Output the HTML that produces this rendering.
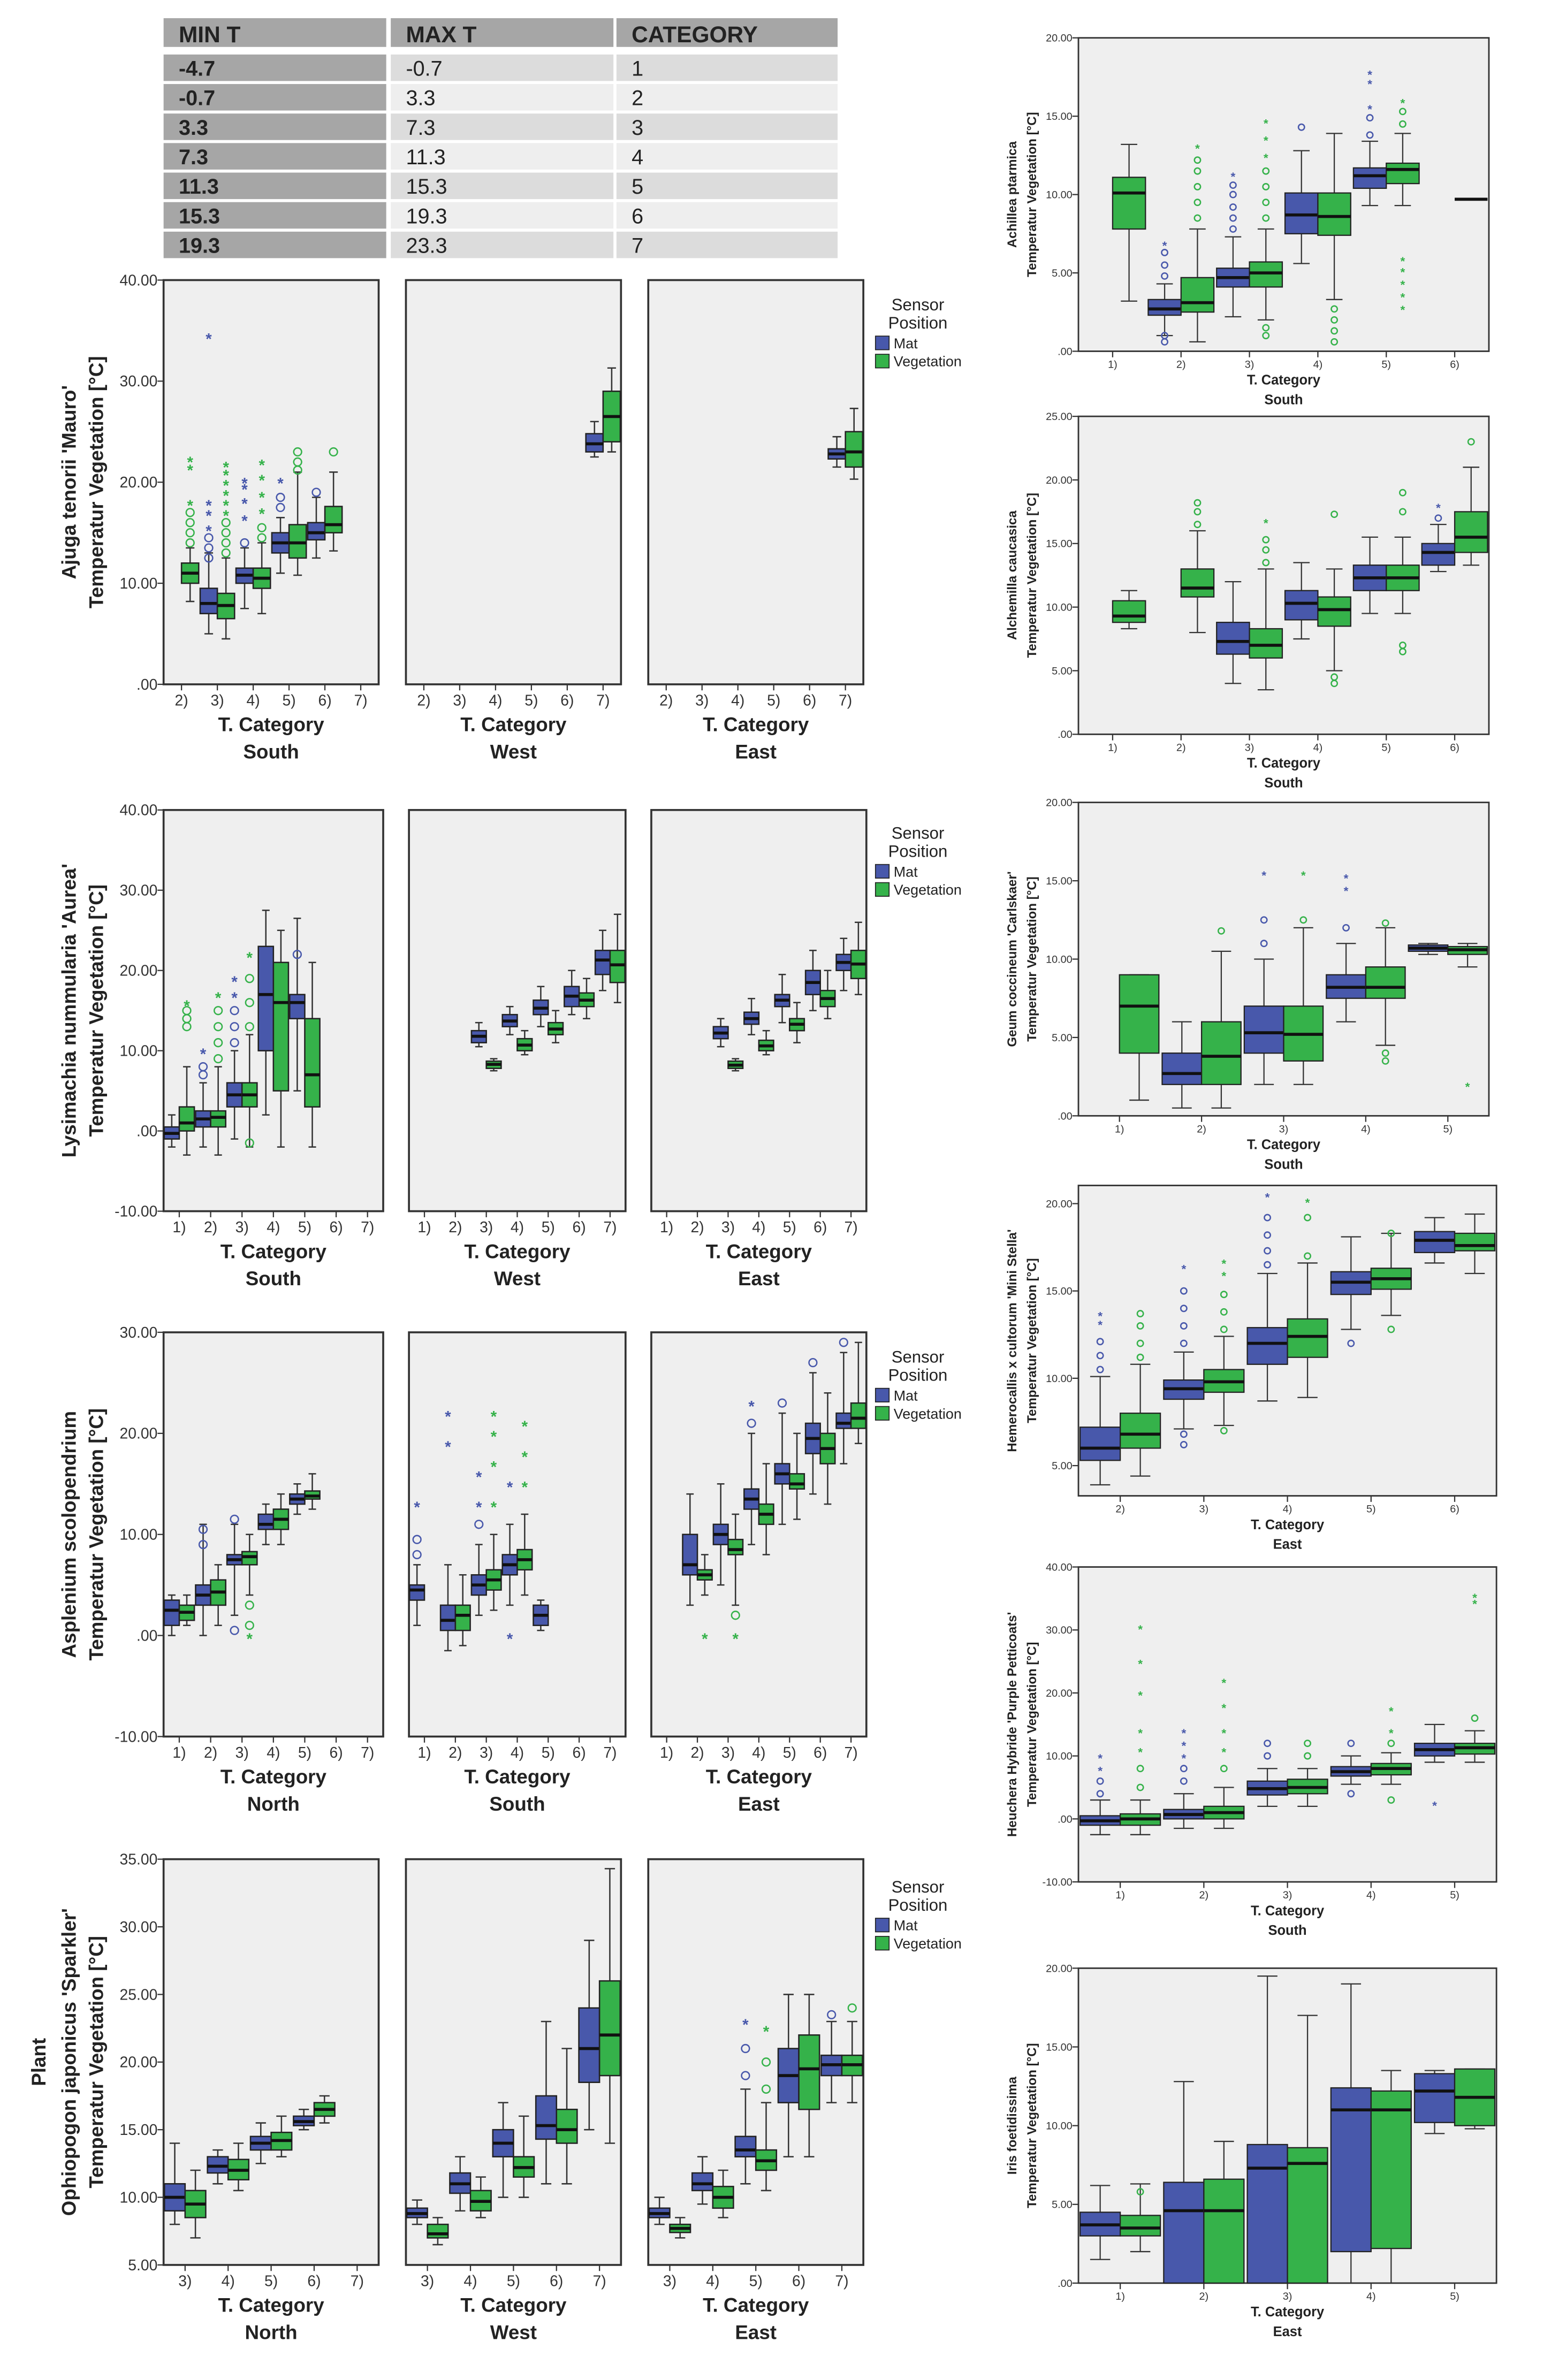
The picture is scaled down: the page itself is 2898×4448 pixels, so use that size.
<!DOCTYPE html>
<html><head><meta charset="utf-8"><title>Temperature box plots by T. Category</title>
<style>
html,body{margin:0;padding:0;background:#fff;}
svg{display:block;}
text{font-family:"Liberation Sans",Arial,sans-serif;}
</style></head>
<body>
<svg id="fig" xmlns="http://www.w3.org/2000/svg" width="2898" height="4448" viewBox="0 0 1024 1572" preserveAspectRatio="none"></svg>
<script>
// ---------- DATA (box = [whiskerLow, q1, median, q3, whiskerHigh]) ----------
const tableMin = ["-4.7","-0.7","3.3","7.3","11.3","15.3","19.3"];
const tableMax = ["-0.7","3.3","7.3","11.3","15.3","19.3","23.3"];
const tableCat = ["1","2","3","4","5","6","7"];

const cats2to7 = ["2)","3)","4)","5)","6)","7)"];
const cats1to7 = ["1)","2)","3)","4)","5)","6)","7)"];
const cats3to7 = ["3)","4)","5)","6)","7)"];
const cats1to6 = ["1)","2)","3)","4)","5)","6)"];
const cats1to5 = ["1)","2)","3)","4)","5)"];
const cats2to6 = ["2)","3)","4)","5)","6)"];

// Ajuga
const ajugaSouthMat = [null,[5,7,8,9.5,13],[7.5,10,10.8,11.5,13.5],[11,13,14,15,16.5],[12.5,14.3,15,16,18.5],null];
const ajugaSouthVeg = [[8.2,10,11,12,13.5],[4.5,6.5,7.8,9,12.5],[7,9.5,10.5,11.5,14],[10.8,12.5,14,15.8,21],[13.2,15,15.8,17.6,21],null];
const ajugaSouthOut = [[0,'v',14,'o'],[0,'v',15,'o'],[0,'v',16,'o'],[0,'v',17,'o'],[0,'v',18,'*'],[0,'v',21.5,'*'],[0,'v',22.3,'*'],[1,'m',12.5,'o'],[1,'m',13.5,'o'],[1,'m',14.5,'o'],[1,'m',15.5,'*'],[1,'m',17,'*'],[1,'m',18,'*'],[1,'m',34.5,'*'],[1,'v',13,'o'],[1,'v',14,'o'],[1,'v',15,'o'],[1,'v',16,'o'],[1,'v',17,'*'],[1,'v',18,'*'],[1,'v',19,'*'],[1,'v',20,'*'],[1,'v',21,'*'],[1,'v',21.8,'*'],[2,'m',14,'o'],[2,'m',16.5,'*'],[2,'m',18.2,'*'],[2,'m',19.6,'*'],[2,'m',20.2,'*'],[2,'v',14.5,'o'],[2,'v',15.5,'o'],[2,'v',17.2,'*'],[2,'v',18.8,'*'],[2,'v',20.5,'*'],[2,'v',22,'*'],[3,'m',17.5,'o'],[3,'m',18.5,'o'],[3,'m',20.2,'*'],[3,'v',21.2,'o'],[3,'v',22,'o'],[3,'v',23,'o'],[4,'m',19,'o'],[4,'v',23,'o']];
const ajugaWestMat = [null,null,null,null,null,[22.5,23,23.8,24.8,26]];
const ajugaWestVeg = [null,null,null,null,null,[23,24,26.5,29,31.3]];
const ajugaEastMat = [null,null,null,null,null,[21.5,22.3,22.8,23.3,24.5]];
const ajugaEastVeg = [null,null,null,null,null,[20.3,21.5,23,25,27.3]];

// Lysimachia
const lysiSouthMat = [[-2,-1,-0.3,0.5,2],[-2,0.5,1.5,2.5,6],[-1,3,4.5,6,10],[2,10,17,23,27.5],[5,14,16,17,26.5],null,null];
const lysiSouthVeg = [[-3,0,1,3,8],[-3,0.5,1.7,2.5,8],[-2,3,4.5,6,12],[-2,5,16,21,25],[-2,3,7,14,21],null,null];
const lysiSouthOut = [[0,'v',13,'o'],[0,'v',14,'o'],[0,'v',15,'o'],[0,'v',16,'*'],[1,'m',7,'o'],[1,'m',8,'o'],[1,'m',10,'*'],[1,'v',9,'o'],[1,'v',11,'o'],[1,'v',13,'o'],[1,'v',15,'o'],[1,'v',17,'*'],[2,'m',11,'o'],[2,'m',13,'o'],[2,'m',15,'o'],[2,'m',17,'*'],[2,'m',19,'*'],[2,'v',13,'o'],[2,'v',16,'o'],[2,'v',19,'o'],[2,'v',22,'*'],[2,'v',-1.5,'o'],[4,'m',22,'o']];
const lysiWestMat = [null,null,[10.5,11,11.8,12.5,13.5],[12,13,13.7,14.5,15.5],[13,14.5,15.3,16.3,18],[14.5,15.5,16.8,18,20],[17.5,19.5,21.3,22.5,25]];
const lysiWestVeg = [null,null,[7.5,7.8,8.3,8.7,9],[9.5,10,10.7,11.5,12.5],[11,12,12.7,13.5,15],[14,15.5,16.3,17.2,19],[16,18.5,20.7,22.5,27]];
const lysiEastMat = [null,null,[10.5,11.5,12.2,13,14],[12,13.3,14,14.8,16.5],[13.5,15.5,16.3,17,19.5],[15,17,18.5,20,22.5],[17.5,20,21,22,24]];
const lysiEastVeg = [null,null,[7.5,7.8,8.2,8.7,9],[9.5,10,10.6,11.3,12.5],[11,12.5,13.3,14,16],[14,15.5,16.5,17.5,20],[17,19,20.8,22.5,26]];

// Asplenium
const asplNorthMat = [[0,1,2.5,3.5,4],[0,3,4,5,11],[2,7,7.5,8,11],[9,10.5,11,12,13],[12,13,13.5,14,15],null,null];
const asplNorthVeg = [[1,1.5,2.3,3,4],[1,3,4.3,5.5,7],[4,7,7.8,8.3,10],[9,10.5,11.5,12.5,14],[12.5,13.5,13.8,14.3,16],null,null];
const asplNorthOut = [[1,'m',9,'o'],[1,'m',10.5,'o'],[2,'m',0.5,'o'],[2,'m',11.5,'o'],[2,'v',0,'*'],[2,'v',1,'o'],[2,'v',3,'o']];
const asplSouthMat = [[1,3.5,4.5,5,7],[-1.5,0.5,1.5,3,7],[2,4,5,6,9],[3,6,7,8,11],[0.5,1,2,3,3.5],null,null];
const asplSouthVeg = [null,[-1,0.5,2,3,6],[2.5,4.5,5.5,6.5,10],[4,6.5,7.5,8.5,12],null,null,null];
const asplSouthOut = [[0,'m',8,'o'],[0,'m',9.5,'o'],[0,'m',13,'*'],[1,'m',19,'*'],[1,'m',22,'*'],[2,'m',11,'o'],[2,'m',13,'*'],[2,'m',16,'*'],[2,'v',13,'*'],[2,'v',17,'*'],[2,'v',20,'*'],[2,'v',22,'*'],[3,'m',15,'*'],[3,'m',0,'*'],[3,'v',15,'*'],[3,'v',18,'*'],[3,'v',21,'*']];
const asplEastMat = [null,[3,6,7,10,14],[5,9,10,11,15],[9,12.5,13.5,14.5,20],[11,15,16,17,22],[14,18,19.5,21,26],[17,20.5,21,22,28]];
const asplEastVeg = [null,[4,5.5,6,6.5,8],[3,8,8.5,9.5,12],[8,11,12,13,17],[11.5,14.5,15,16,20],[13,17,18.5,20,24],[19,20.5,21.5,23,29]];
const asplEastOut = [[1,'v',0,'*'],[2,'v',0,'*'],[2,'v',2,'o'],[3,'m',21,'o'],[3,'m',23,'*'],[4,'m',23,'o'],[5,'m',27,'o'],[6,'m',29,'o']];

// Ophiopogon
const ophiNorthMat = [[8,9,10,11,14],[11,11.8,12.3,13,13.5],[12.5,13.5,14,14.5,15.5],[15,15.3,15.6,16,16.5],null];
const ophiNorthVeg = [[7,8.5,9.5,10.5,12],[10.5,11.3,12,12.8,14],[13,13.5,14.2,14.8,16],[15.5,16,16.5,17,17.5],null];
const ophiWestMat = [[8,8.5,8.8,9.2,9.8],[9,10.3,11,11.8,13],[10,13,14,15,17],[11,14.3,15.3,17.5,23],[15,18.5,21,24,29]];
const ophiWestVeg = [[6.5,7,7.3,8,8.5],[8.5,9,9.7,10.5,11.5],[10,11.5,12.2,13,16],[11,14,15,16.5,21],[14,19,22,26,34.3]];
const ophiEastMat = [[8,8.5,8.8,9.2,10],[9.5,10.5,11,11.8,13],[11,13,13.5,14.5,18],[13,17,19,21,25],[17,19,19.8,20.5,23]];
const ophiEastVeg = [[7,7.4,7.7,8,8.5],[8.5,9.2,10,10.8,12],[10.5,12,12.7,13.5,17],[13,16.5,19.5,22,25],[17,19,19.8,20.5,23]];
const ophiEastOut = [[2,'m',19,'o'],[2,'m',21,'o'],[2,'m',23,'*'],[2,'v',18,'o'],[2,'v',20,'o'],[2,'v',22.5,'*'],[4,'m',23.5,'o'],[4,'v',24,'o']];

// Right column
const achiMat = [null,[1,2.3,2.7,3.3,4.3],[2.2,4.1,4.7,5.3,7.3],[5.6,7.5,8.7,10.1,12.8],[9.3,10.4,11.2,11.7,13.4],null];
const achiVeg = [[3.2,7.8,10.1,11.1,13.2],[0.6,2.5,3.1,4.7,7.8],[2,4.1,5,5.7,7.8],[3.3,7.4,8.6,10.1,13.9],[9.3,10.7,11.6,12,13.9],[9.7,9.7,9.7,9.7,9.7]];
const achiOut = [[1,'m',0.6,'o'],[1,'m',1,'o'],[1,'m',4.8,'o'],[1,'m',5.5,'o'],[1,'m',6.3,'o'],[1,'m',6.9,'*'],[1,'v',8.5,'o'],[1,'v',9.5,'o'],[1,'v',10.5,'o'],[1,'v',11.5,'o'],[1,'v',12.2,'o'],[1,'v',13.1,'*'],[2,'m',7.8,'o'],[2,'m',8.5,'o'],[2,'m',9.2,'o'],[2,'m',10,'o'],[2,'m',10.6,'o'],[2,'m',11.3,'*'],[2,'v',1,'o'],[2,'v',1.5,'o'],[2,'v',8.5,'o'],[2,'v',9.5,'o'],[2,'v',10.5,'o'],[2,'v',11.5,'o'],[2,'v',12.5,'*'],[2,'v',13.6,'*'],[2,'v',14.7,'*'],[3,'m',14.3,'o'],[3,'v',0.6,'o'],[3,'v',1.3,'o'],[3,'v',2,'o'],[3,'v',2.7,'o'],[4,'m',13.8,'o'],[4,'m',14.9,'o'],[4,'m',15.6,'*'],[4,'m',17.2,'*'],[4,'m',17.8,'*'],[4,'v',14.5,'o'],[4,'v',15.3,'o'],[4,'v',16,'*'],[4,'v',2.8,'*'],[4,'v',3.6,'*'],[4,'v',4.4,'*'],[4,'v',5.2,'*'],[4,'v',5.9,'*']];
const alchMat = [null,null,[4,6.3,7.3,8.8,12],[7.5,9,10.3,11.3,13.5],[9.5,11.3,12.3,13.3,15.5],[12.8,13.3,14.3,15,16.5]];
const alchVeg = [[8.3,8.8,9.3,10.5,11.3],[8,10.8,11.5,13,16],[3.5,6,7,8.3,13],[5,8.5,9.8,10.8,13],[9.5,11.3,12.3,13.3,15.5],[13.3,14.3,15.5,17.5,21]];
const alchOut = [[1,'v',16.5,'o'],[1,'v',17.5,'o'],[1,'v',18.2,'o'],[2,'v',13.5,'o'],[2,'v',14.5,'o'],[2,'v',15.3,'o'],[2,'v',16.8,'*'],[3,'v',4.5,'o'],[3,'v',4,'o'],[3,'v',17.3,'o'],[4,'v',6.5,'o'],[4,'v',7,'o'],[4,'v',17.5,'o'],[4,'v',19,'o'],[5,'m',17,'o'],[5,'m',18,'*'],[5,'v',23,'o']];
const geumMat = [null,[0.5,2,2.7,4,6],[2,4,5.3,7,10],[6,7.5,8.2,9,11],[10.3,10.5,10.7,10.9,11]];
const geumVeg = [[1,4,7,9,9],[0.5,2,3.8,6,10.5],[2,3.5,5.2,7,12],[4.5,7.5,8.2,9.5,12],[9.5,10.3,10.6,10.8,11]];
const geumOut = [[1,'v',11.8,'o'],[2,'m',11,'o'],[2,'m',12.5,'o'],[2,'m',15.5,'*'],[2,'v',12.5,'o'],[2,'v',15.5,'*'],[3,'m',12,'o'],[3,'m',14.5,'*'],[3,'m',15.3,'*'],[3,'v',3.5,'o'],[3,'v',4,'o'],[3,'v',12.3,'o'],[4,'v',2,'*']];
const hemeMat = [[3.9,5.3,6,7.2,10.1],[7.1,8.8,9.4,9.9,11.5],[8.7,10.8,12,12.9,16],[12.8,14.8,15.5,16.1,18.1],[16.6,17.2,17.9,18.4,19.2]];
const hemeVeg = [[4.4,6,6.8,8,10.8],[7.3,9.2,9.8,10.5,12.4],[8.9,11.2,12.4,13.4,16.6],[13.6,15.1,15.7,16.3,18.3],[16,17.3,17.6,18.3,19.4]];
const hemeOut = [[0,'m',10.5,'o'],[0,'m',11.3,'o'],[0,'m',12.1,'o'],[0,'m',13.2,'*'],[0,'m',13.7,'*'],[0,'v',11.2,'o'],[0,'v',12,'o'],[0,'v',13,'o'],[0,'v',13.7,'o'],[1,'m',6.2,'o'],[1,'m',6.8,'o'],[1,'m',12,'o'],[1,'m',13,'o'],[1,'m',14,'o'],[1,'m',15,'o'],[1,'m',16.4,'*'],[1,'v',7,'o'],[1,'v',12.8,'o'],[1,'v',13.8,'o'],[1,'v',14.8,'o'],[1,'v',16,'*'],[1,'v',16.7,'*'],[2,'m',16.5,'o'],[2,'m',17.3,'o'],[2,'m',18.2,'o'],[2,'m',19.2,'o'],[2,'m',20.5,'*'],[2,'v',17,'o'],[2,'v',19.2,'o'],[2,'v',20.2,'*'],[3,'m',12,'o'],[3,'v',12.8,'o'],[3,'v',18.3,'o']];
const heucMat = [[-2.5,-1,-0.3,0.5,3],[-1.5,0,0.7,1.5,4],[2,3.8,4.8,6,8],[5.5,6.8,7.5,8.3,10],[9,10,11,12,15]];
const heucVeg = [[-2.5,-1,0,0.8,3],[-1.5,0,1,2,5],[2,4,5,6.3,8],[5.5,7,8,8.8,10.5],[9,10.3,11.3,12,14]];
const heucOut = [[0,'m',4,'o'],[0,'m',6,'o'],[0,'m',8,'*'],[0,'m',10,'*'],[0,'v',5,'o'],[0,'v',8,'o'],[0,'v',11,'*'],[0,'v',14,'*'],[0,'v',20,'*'],[0,'v',25,'*'],[0,'v',30.5,'*'],[1,'m',6,'o'],[1,'m',8,'o'],[1,'m',10,'*'],[1,'m',12,'*'],[1,'m',14,'*'],[1,'v',8,'o'],[1,'v',11,'*'],[1,'v',14,'*'],[1,'v',18,'*'],[1,'v',22,'*'],[2,'m',10,'o'],[2,'m',12,'o'],[2,'v',10,'o'],[2,'v',12,'o'],[3,'m',4,'o'],[3,'m',12,'o'],[3,'v',3,'o'],[3,'v',12,'o'],[3,'v',14,'*'],[3,'v',17.5,'*'],[4,'m',2.5,'*'],[4,'v',16,'o'],[4,'v',34.5,'*'],[4,'v',35.5,'*']];
const irisMat = [[1.5,3,3.7,4.5,6.2],[0,0,4.6,6.4,12.8],[0,0,7.3,8.8,19.5],[0,2,11,12.4,19],[9.5,10.2,12.2,13.3,13.5]];
const irisVeg = [[2,3,3.5,4.3,6.3],[0,0,4.6,6.6,9],[0,0,7.6,8.6,17],[0,2.2,11,12.2,13.5],[9.8,10,11.8,13.6,13.6]];
const irisOut = [[0,'v',5.8,'o']];

// ---------- DRAWING ----------
const svg = document.getElementById('fig');
const NS = 'http://www.w3.org/2000/svg';
const MAT = '#4858ab', VEG = '#35b24a';
function el(tag, attrs, parent) {
  const e = document.createElementNS(NS, tag);
  for (const k in attrs) e.setAttribute(k, attrs[k]);
  (parent || svg).appendChild(e);
  return e;
}
function txt(str, attrs, parent) {
  const t = el('text', attrs, parent);
  t.textContent = str;
  return t;
}
function fmt(v) {
  if (v === 0) return '.00';
  return v.toFixed(2);
}

// Table
const tcols = [[108,255],[258,405],[407,553]];
const hdr = ['MIN T','MAX T','CATEGORY'];
const tg = el('g', {});


hdr.forEach((h, i) => {
  const r = el('rect', {x:tcols[i][0], y:12, width:tcols[i][1]-tcols[i][0], height:19, fill:'#a6a6a6'}, tg);
  
  
  const t = txt(h, {x:tcols[i][0]+10, y:28, 'font-size':15, 'font-weight':'bold', fill:'#222', style:'font-family:"Liberation Sans Narrow","Liberation Sans",sans-serif'}, tg);
  
  
});
for (let i = 0; i < tableMin.length; i++) {
  const y = 36 + i * 19.5;
  const light = i % 2 === 0 ? '#dcdcdc' : '#eeeeee';
  const vals = [tableMin[i], tableMax[i], tableCat[i]];
  vals.forEach((v, c) => {
    const r = el('rect', {x:tcols[c][0], y:y, width:tcols[c][1]-tcols[c][0], height:17.5, fill: c === 0 ? '#a6a6a6' : light}, tg);
    
    
    const t = txt(v, {x:tcols[c][0]+10, y:y+14, 'font-size':14, 'font-weight': c === 0 ? 'bold' : 'normal', fill:'#222', style:'font-family:"Liberation Sans Narrow","Liberation Sans",sans-serif'}, tg);
    
    
  });
}

function panel(o) {
  const g = el('g', {});
  
  
  const yS = v => o.y0 + (o.vmax - v) / (o.vmax - o.vmin) * (o.y1 - o.y0);
  const n = o.cats.length;
  const step = (o.x1 - o.x0) / n;
  const xS = i => o.x0 + step * (i + 0.5);
  const bw = step * 0.48;
  const bg = el('rect', {x:o.x0, y:o.y0, width:o.x1-o.x0, height:o.y1-o.y0, fill:'#efefef', stroke:'#333', 'stroke-width': o.small ? 1 : 1.3}, g);
  
  
  const fs = o.small ? 7 : 10;
  if (o.showY) {
    o.ticks.forEach(v => {
      const tk = el('line', {x1:o.x0-4, x2:o.x0, y1:yS(v), y2:yS(v), stroke:'#333', 'stroke-width':0.8}, g);
      
      
      const tl = txt(fmt(v), {x:o.x0-4, y:yS(v)+fs*0.35, 'font-size':fs, 'text-anchor':'end', fill:'#333'}, g);
      
      
    });
  }
  o.cats.forEach((c, i) => {
    const tk = el('line', {x1:xS(i), x2:xS(i), y1:o.y1, y2:o.y1+4, stroke:'#333', 'stroke-width':0.8}, g);
    
    
    const tl = txt(c, {x:xS(i), y:o.y1 + (o.small ? 11 : 14), 'font-size':fs, 'text-anchor':'middle', fill:'#333'}, g);
    
    
  });
  const tfs = o.small ? 9 : 13;
  const xt = txt('T. Category', {x:(o.x0+o.x1)/2, y:o.y1 + (o.small ? 22 : 31), 'font-size':tfs, 'font-weight':'bold', 'text-anchor':'middle', fill:'#222'}, g);
  
  
  const st = txt(o.sub, {x:(o.x0+o.x1)/2, y:o.y1 + (o.small ? 35 : 49), 'font-size':tfs, 'font-weight':'bold', 'text-anchor':'middle', fill:'#222'}, g);
  
  
  if (o.ytitle) {
    const cy = (o.y0 + o.y1) / 2;
    o.ytitle.forEach((line, k) => {
      const x = o.ytx[k];
      const t = txt(line, {x:x, y:cy, 'font-size': o.small ? 8.5 : 13, 'font-weight':'bold', 'text-anchor':'middle', fill:'#222', transform:`rotate(-90 ${x} ${cy})`}, g);
      
      
    });
  }
  function drawBox(b, cx, color, kind) {
    if (!b) return;
    const left = kind === 'm' ? cx - bw : cx;
    const mid = left + bw / 2;
    const sw = o.small ? 0.8 : 0.9;
    if (b[0] === b[4]) {
      const m = el('line', {x1:left, x2:left+bw, y1:yS(b[2]), y2:yS(b[2]), stroke:'#111', 'stroke-width':2}, g);
      
      
      return;
    }
    const w1 = el('line', {x1:mid, x2:mid, y1:yS(b[4]), y2:yS(b[3]), stroke:'#333', 'stroke-width':sw}, g);
    
    
    const w2 = el('line', {x1:mid, x2:mid, y1:yS(b[1]), y2:yS(b[0]), stroke:'#333', 'stroke-width':sw}, g);
    
    
    [b[0], b[4]].forEach(v => {
      const cap = el('line', {x1:mid-bw/4, x2:mid+bw/4, y1:yS(v), y2:yS(v), stroke:'#333', 'stroke-width':sw}, g);
      
      
    });
    const r = el('rect', {x:left, y:yS(b[3]), width:bw, height:Math.max(0.5, yS(b[1])-yS(b[3])), fill:color, stroke:'#222', 'stroke-width':sw}, g);
    
    
    const m = el('line', {x1:left, x2:left+bw, y1:yS(b[2]), y2:yS(b[2]), stroke:'#111', 'stroke-width':2}, g);
    
    
  }
  o.cats.forEach((c, i) => {
    drawBox(o.mat ? o.mat[i] : null, xS(i), MAT, 'm');
    drawBox(o.veg ? o.veg[i] : null, xS(i), VEG, 'v');
  });
  (o.out || []).forEach(p => {
    const cx = xS(p[0]) + (p[1] === 'm' ? -bw/2 : bw/2);
    const color = p[1] === 'm' ? MAT : VEG;
    const r = o.small ? 2 : 2.6;
    if (p[3] === 'o') {
      const c = el('circle', {cx:cx, cy:yS(p[2]), r:r, fill:'none', stroke:color, 'stroke-width':0.9}, g);
      
      
    } else {
      const s = txt('*', {x:cx, y:yS(p[2]) + r*2.2, 'font-size': r*4, 'text-anchor':'middle', fill:color, 'font-weight':'bold'}, g);
      
      
    }
  });
}

function legend(y) {
  const g = el('g', {});
  
  
  const t1 = txt('Sensor', {x:606, y:y+10, 'font-size':11, 'text-anchor':'middle', fill:'#222'}, g);
  
  
  const t2 = txt('Position', {x:606, y:y+22, 'font-size':11, 'text-anchor':'middle', fill:'#222'}, g);
  
  
  const r1 = el('rect', {x:578, y:y+27, width:9, height:9, fill:MAT, stroke:'#222', 'stroke-width':0.6}, g);
  
  
  const l1 = txt('Mat', {x:590, y:y+35, 'font-size':9.5, fill:'#222'}, g);
  
  
  const r2 = el('rect', {x:578, y:y+39, width:9, height:9, fill:VEG, stroke:'#222', 'stroke-width':0.6}, g);
  
  
  const l2 = txt('Vegetation', {x:590, y:y+47, 'font-size':9.5, fill:'#222'}, g);
  
  
}

const ytx = [50, 68];
// Row 1
panel({name:'ajuga-south-panel', x0:108, x1:250, y0:185, y1:452, vmin:0, vmax:40, ticks:[0,10,20,30,40], cats:cats2to7, mat:ajugaSouthMat, veg:ajugaSouthVeg, out:ajugaSouthOut, sub:'South', showY:true, ytitle:["Ajuga tenorii 'Mauro'","Temperatur Vegetation [°C]"], ytx:ytx});
panel({name:'ajuga-west-panel', x0:268, x1:410, y0:185, y1:452, vmin:0, vmax:40, ticks:[], cats:cats2to7, mat:ajugaWestMat, veg:ajugaWestVeg, sub:'West'});
panel({name:'ajuga-east-panel', x0:428, x1:570, y0:185, y1:452, vmin:0, vmax:40, ticks:[], cats:cats2to7, mat:ajugaEastMat, veg:ajugaEastVeg, sub:'East'});
legend(195);
// Row 2
panel({name:'lysimachia-south-panel', x0:108, x1:253, y0:535, y1:800, vmin:-10, vmax:40, ticks:[-10,0,10,20,30,40], cats:cats1to7, mat:lysiSouthMat, veg:lysiSouthVeg, out:lysiSouthOut, sub:'South', showY:true, ytitle:["Lysimachia nummularia 'Aurea'","Temperatur Vegetation [°C]"], ytx:ytx});
panel({name:'lysimachia-west-panel', x0:270, x1:413, y0:535, y1:800, vmin:-10, vmax:40, ticks:[], cats:cats1to7, mat:lysiWestMat, veg:lysiWestVeg, sub:'West'});
panel({name:'lysimachia-east-panel', x0:430, x1:572, y0:535, y1:800, vmin:-10, vmax:40, ticks:[], cats:cats1to7, mat:lysiEastMat, veg:lysiEastVeg, sub:'East'});
legend(544);
// Row 3
panel({name:'asplenium-north-panel', x0:108, x1:253, y0:880, y1:1147, vmin:-10, vmax:30, ticks:[-10,0,10,20,30], cats:cats1to7, mat:asplNorthMat, veg:asplNorthVeg, out:asplNorthOut, sub:'North', showY:true, ytitle:["Asplenium scolopendrium","Temperatur Vegetation [°C]"], ytx:ytx});
panel({name:'asplenium-south-panel', x0:270, x1:413, y0:880, y1:1147, vmin:-10, vmax:30, ticks:[], cats:cats1to7, mat:asplSouthMat, veg:asplSouthVeg, out:asplSouthOut, sub:'South'});
panel({name:'asplenium-east-panel', x0:430, x1:572, y0:880, y1:1147, vmin:-10, vmax:30, ticks:[], cats:cats1to7, mat:asplEastMat, veg:asplEastVeg, out:asplEastOut, sub:'East'});
legend(890);
// Row 4
panel({name:'ophiopogon-north-panel', x0:108, x1:250, y0:1228, y1:1496, vmin:5, vmax:35, ticks:[5,10,15,20,25,30,35], cats:cats3to7, mat:ophiNorthMat, veg:ophiNorthVeg, sub:'North', showY:true, ytitle:["Plant","Ophiopogon japonicus 'Sparkler'","Temperatur Vegetation [°C]"], ytx:[30,50,68]});
panel({name:'ophiopogon-west-panel', x0:268, x1:410, y0:1228, y1:1496, vmin:5, vmax:35, ticks:[], cats:cats3to7, mat:ophiWestMat, veg:ophiWestVeg, sub:'West'});
panel({name:'ophiopogon-east-panel', x0:428, x1:570, y0:1228, y1:1496, vmin:5, vmax:35, ticks:[], cats:cats3to7, mat:ophiEastMat, veg:ophiEastVeg, out:ophiEastOut, sub:'East'});
legend(1240);
// Right column
const rtx = [671, 684];
panel({name:'achillea-panel', small:true, x0:712, x1:983, y0:25, y1:232, vmin:0, vmax:20, ticks:[0,5,10,15,20], cats:cats1to6, mat:achiMat, veg:achiVeg, out:achiOut, sub:'South', showY:true, ytitle:["Achillea ptarmica","Temperatur Vegetation [°C]"], ytx:rtx});
panel({name:'alchemilla-panel', small:true, x0:712, x1:983, y0:275, y1:485, vmin:0, vmax:25, ticks:[0,5,10,15,20,25], cats:cats1to6, mat:alchMat, veg:alchVeg, out:alchOut, sub:'South', showY:true, ytitle:["Alchemilla caucasica","Temperatur Vegetation [°C]"], ytx:rtx});
panel({name:'geum-panel', small:true, x0:712, x1:983, y0:530, y1:737, vmin:0, vmax:20, ticks:[0,5,10,15,20], cats:cats1to5, mat:geumMat, veg:geumVeg, out:geumOut, sub:'South', showY:true, ytitle:["Geum coccineum 'Carlskaer'","Temperatur Vegetation [°C]"], ytx:rtx});
panel({name:'hemerocallis-panel', small:true, x0:712, x1:988, y0:783, y1:988, vmin:3.27, vmax:21.04, ticks:[5,10,15,20], cats:cats2to6, mat:hemeMat, veg:hemeVeg, out:hemeOut, sub:'East', showY:true, ytitle:["Hemerocallis x cultorum 'Mini Stella'","Temperatur Vegetation [°C]"], ytx:rtx});
panel({name:'heuchera-panel', small:true, x0:712, x1:988, y0:1035, y1:1243, vmin:-10, vmax:40, ticks:[-10,0,10,20,30,40], cats:cats1to5, mat:heucMat, veg:heucVeg, out:heucOut, sub:'South', showY:true, ytitle:["Heuchera Hybride 'Purple Petticoats'","Temperatur Vegetation [°C]"], ytx:rtx});
panel({name:'iris-panel', small:true, x0:712, x1:988, y0:1300, y1:1508, vmin:0, vmax:20, ticks:[0,5,10,15,20], cats:cats1to5, mat:irisMat, veg:irisVeg, out:irisOut, sub:'East', showY:true, ytitle:["Iris foetidissima","Temperatur Vegetation [°C]"], ytx:rtx});
</script>
</body></html>
